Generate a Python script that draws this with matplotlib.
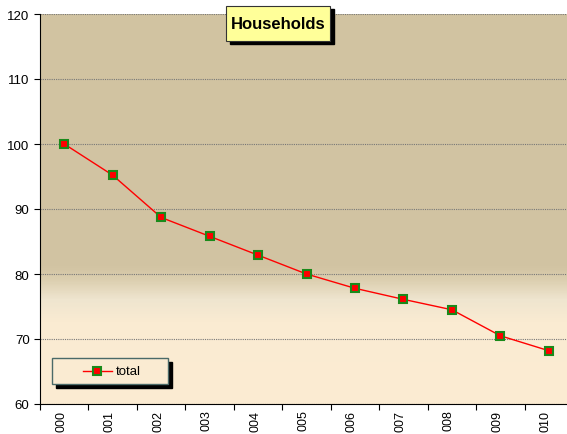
import numpy as np
import matplotlib
matplotlib.use("Agg")
import matplotlib.pyplot as plt
from matplotlib.colors import LinearSegmentedColormap
from matplotlib.patches import FancyBboxPatch
from matplotlib.transforms import ScaledTranslation

# ---------- data ----------
# year labels, as they appear in the (cropped) picture
years = ["000", "001", "002", "003", "004", "005",
         "006", "007", "008", "009", "010"]
total = [100.0, 95.2, 88.7, 85.8, 82.9, 80.0, 77.8, 76.1, 74.5, 70.5, 68.2]

y_min, y_max = 60, 120

fig = plt.figure(figsize=(5.67, 4.35), dpi=100)
W, H = 567, 435
# axes runs past the right edge of the picture (chart is cropped there)
ax = fig.add_axes([40 / W, (H - 405) / H, 533 / W, 390 / H])

# background gradient: tan at top, cream at bottom
vals = np.linspace(y_min, y_max, 600).reshape(-1, 1)
cmap = LinearSegmentedColormap.from_list(
    "bg",
    [(0.0, "#FCECD3"), (12.5 / 60, "#FAEBD2"), (16.0 / 60, "#EFE5CF"),
     (19.0 / 60, "#DCCFB0"), (21.0 / 60, "#D2C4A3"), (1.0, "#D1C3A1")])
ax.imshow(vals, origin="lower", aspect="auto", cmap=cmap,
          extent=[-0.5, len(years) - 0.5, y_min, y_max], zorder=0)

x = np.arange(len(years))
ax.plot(x, total, color="#FF0000", lw=1.0, marker="s", markersize=6,
        markerfacecolor="#FF0000", markeredgecolor="#1A8A1A",
        markeredgewidth=1.5, label="total", zorder=3)

ax.set_xlim(-0.5, len(years) - 0.5)
ax.set_ylim(y_min, y_max)
ax.set_yticks(range(60, 121, 10))
ax.yaxis.grid(True, color="#777777", linestyle=(0, (1, 1)), lw=0.8)
for line in ax.get_ygridlines():
    line.set_zorder(1)

# ticks at category boundaries, labels at category centres
ax.set_xticks(np.arange(-0.5, len(years), 1.0), minor=False)
ax.set_xticklabels([])
ax.set_xticks(x, minor=True)
ax.set_xticklabels(years, minor=True, rotation=90, fontsize=9,
                   fontfamily="Liberation Sans", va="top")
ax.tick_params(axis="x", which="minor", length=0, pad=4)
ax.tick_params(axis="x", which="major", length=4, color="black")
ax.tick_params(axis="y", length=4, labelsize=9.5)
for lab in ax.get_yticklabels():
    lab.set_fontfamily("Liberation Sans")
for lab in ax.get_xticklabels(minor=True):
    lab.set_transform(lab.get_transform() + ScaledTranslation(-3 / 100, 0, fig.dpi_scale_trans))

for s in ["top", "right"]:
    ax.spines[s].set_visible(False)
ax.spines["left"].set_color("black")
ax.spines["bottom"].set_color("black")

# title box with shadow
fig.patches.append(FancyBboxPatch((230 / W, 1 - 45 / H), 104 / W, 35 / H,
                                  boxstyle="square,pad=0", transform=fig.transFigure,
                                  facecolor="black", edgecolor="black", zorder=5))
fig.patches.append(FancyBboxPatch((226 / W, 1 - 42 / H), 104 / W, 35 / H,
                                  boxstyle="square,pad=0", transform=fig.transFigure,
                                  facecolor="#FFFF99", edgecolor="#333333", lw=0.8, zorder=6))
fig.text(278 / W, 1 - 24.5 / H, "Households", ha="center", va="center",
         fontsize=12, fontweight="bold", fontfamily="Liberation Sans", zorder=7)

# legend box with shadow
fig.patches.append(FancyBboxPatch((56 / W, 1 - 389 / H), 116 / W, 26 / H,
                                  boxstyle="square,pad=0", transform=fig.transFigure,
                                  facecolor="black", edgecolor="black", zorder=5))
fig.patches.append(FancyBboxPatch((52 / W, 1 - 385 / H), 116 / W, 26 / H,
                                  boxstyle="square,pad=0", transform=fig.transFigure,
                                  facecolor="#FAEBD2", edgecolor="#4A6A68", lw=1.0, zorder=6))
fig.lines.append(plt.Line2D([83 / W, 112 / W], [1 - 372 / H, 1 - 372 / H],
                            transform=fig.transFigure, color="#FF0000", lw=1.0,
                            zorder=7))
fig.lines.append(plt.Line2D([97 / W], [1 - 372 / H], transform=fig.transFigure,
                            color="#FF0000", marker="s", markersize=6,
                            markeredgecolor="#1A8A1A", markeredgewidth=1.5, zorder=8))
fig.text(116 / W, 1 - 372 / H, "total", ha="left", va="center", fontsize=9.5,
         fontfamily="Liberation Sans", zorder=7)

fig.savefig("out.png", dpi=100, facecolor="white")
